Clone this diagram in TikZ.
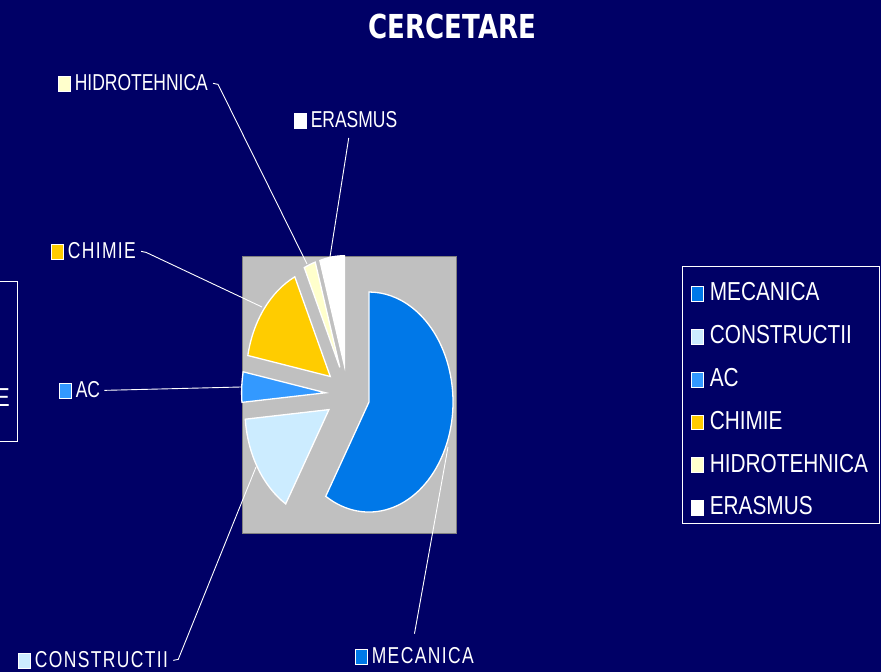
\documentclass[tikz,border=0pt]{standalone}
\usepackage{fontspec}
\setmainfont{Liberation Sans}
\newfontfamily\narrowfont[FakeStretch=0.76]{Liberation Sans}
\newfontfamily\spacedfont[FakeStretch=0.76, LetterSpace=6]{Liberation Sans}
\newfontfamily\legendfont[FakeStretch=0.8]{Liberation Sans}
\newfontfamily\titlefont[FakeStretch=0.79]{DejaVu Sans}

\definecolor{navy}{HTML}{000066}
\definecolor{plotgray}{HTML}{C0C0C0}
\definecolor{plotedge}{HTML}{808080}
\definecolor{mecanica}{HTML}{0078E8}
\definecolor{constructii}{HTML}{CCECFF}
\definecolor{ac}{HTML}{3399FF}
\definecolor{chimie}{HTML}{FFCC00}
\definecolor{hidro}{HTML}{FFFFCC}
\definecolor{erasmus}{HTML}{FFFFFF}

\newcommand{\keybox}[1]{{\setlength{\fboxsep}{0pt}\setlength{\fboxrule}{0.8pt}\fcolorbox{white}{#1}{\rule{0pt}{14pt}\rule{11pt}{0pt}}}}

\tikzset{
  slice/.style={draw=white, line width=1.3pt},
  leader/.style={draw=white, line width=0.9pt},
  piekey/.style={inner sep=0pt, text=white, anchor=base west, font=\narrowfont\fontsize{23}{23}\selectfont},
  widekey/.style={piekey, font=\spacedfont\fontsize{23}{23}\selectfont},
  legkey/.style={inner sep=0pt, text=white, anchor=base west, font=\legendfont\fontsize{26}{26}\selectfont}
}

\begin{document}
\begin{tikzpicture}[x=1pt, y=1pt]
\fill[navy] (0,0) rectangle (881,672);
\useasboundingbox (0,0) rectangle (881,672);

% title
\node[text=white, font=\titlefont\bfseries\fontsize{33}{33}\selectfont] (title) at (452.5,646) {CERCETARE};

% plot area and exploded pie
\draw[fill=plotgray, draw=plotedge, line width=1pt] (242,138) rectangle (456,415);
\coordinate (pie) at (347.7,277.7);
\foreach \from/\to/\col in {-121/90/mecanica, 185/239/constructii, 169/185/ac,
                            115/169/chimie, 107/115/hidro, 90/107/erasmus} {
  \pgfmathsetmacro\midangle{(\from+\to)/2}
  \draw[slice, fill=\col] (pie) ++(\midangle:22.1 and 28.9) -- ++(\from:84 and 110)
    arc[start angle=\from, end angle=\to, x radius=84, y radius=110] -- cycle;
}

% points where the leaders touch the slices
\coordinate (tip-hidro) at (307,408);
\coordinate (tip-erasmus) at (330,415);
\coordinate (tip-chimie) at (262,365);
\coordinate (tip-ac) at (241,285);
\coordinate (tip-constructii) at (256,205);
\coordinate (tip-mecanica) at (448,225);

% pie labels
\node[piekey] (lab-hidro) at (58,581) {\keybox{hidro}\hspace{4pt}HIDROTEHNICA};
\node[piekey] (lab-erasmus) at (294,544) {\keybox{erasmus}\hspace{4pt}ERASMUS};
\node[widekey] (lab-chimie) at (51,413) {\keybox{chimie}\hspace{4pt}CHIMIE};
\node[piekey] (lab-ac) at (59,274) {\keybox{ac}\hspace{4pt}AC};
\node[widekey] (lab-constructii) at (18,4) {\keybox{constructii}\hspace{4pt}CONSTRUCTII};
\node[widekey] (lab-mecanica) at (355,8) {\keybox{mecanica}\hspace{4pt}MECANICA};

\draw[leader] ([xshift=5pt]lab-hidro.east) -- ++(5,-1) -- (tip-hidro);
\draw[leader] ([xshift=3pt, yshift=-9pt]lab-erasmus.south) -- (tip-erasmus);
\draw[leader] ([xshift=5pt]lab-chimie.east) -- ++(5,-1) -- (tip-chimie);
\draw[leader] ([xshift=4pt]lab-ac.east) -- (tip-ac);
\draw[leader] ([xshift=5pt]lab-constructii.east) -- ++(5,1) -- (tip-constructii);
\draw[leader] ([xshift=0pt, yshift=14pt]lab-mecanica.north) -- (tip-mecanica);

% legend
\draw[white, line width=1pt] (682,405) rectangle (879,148);
\foreach \name/\col [count=\i] in {MECANICA/mecanica, CONSTRUCTII/constructii, AC/ac,
                                   CHIMIE/chimie, HIDROTEHNICA/hidro, ERASMUS/erasmus}
  \node[legkey] (leg-\i) at (691, {371-42.8*(\i-1)}) {\keybox{\col}\hspace{6pt}\name};

% cut-off legend at the left edge
\draw[white, line width=1pt] (-2,390) -- (17,390) -- (17,230) -- (-2,230);
\node[legkey, anchor=base east] (left-e) at (10,265) {E};
\end{tikzpicture}
\end{document}
